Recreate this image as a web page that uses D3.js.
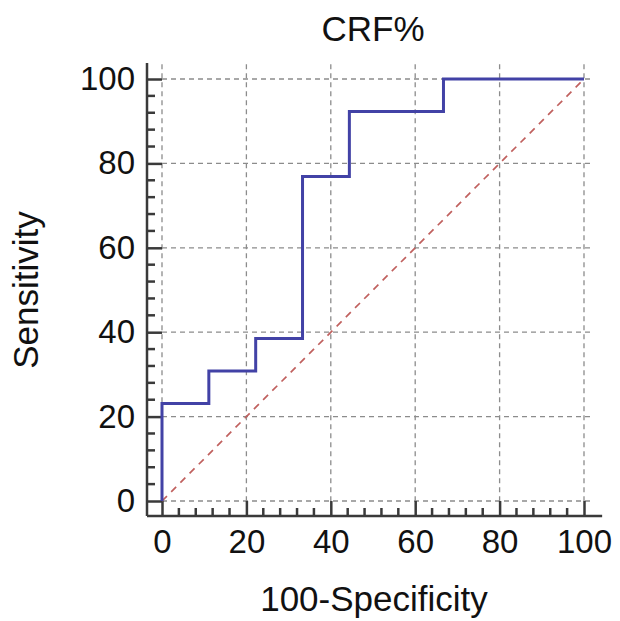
<!DOCTYPE html>
<html>
<head>
<meta charset="utf-8">
<script src="https://cdn.jsdelivr.net/npm/d3@7"></script>
<style>
  body { margin: 0; background: #fff; }
  text { font-family: "Liberation Sans", Arial, sans-serif; fill: #111; }
</style>
</head>
<body>
<div id="chart"></div>
<script>
// ROC curve points (100-Specificity, Sensitivity)
const fpr = [0, 0, 11.1, 11.1, 22.2, 22.2, 33.3, 33.3, 44.4, 44.4, 66.7, 66.7, 100];
const tpr = [0, 23.1, 23.1, 30.8, 30.8, 38.5, 38.5, 76.9, 76.9, 92.3, 92.3, 100, 100];
const majorTicks = [0, 20, 40, 60, 80, 100];
const minorTicks = d3.range(0, 101, 4).filter(v => v % 20 !== 0);
const chartTitle = "CRF%";
const xTitle = "100-Specificity";
const yTitle = "Sensitivity";

const width = 620, height = 621;
const margin = {left: 162, right: 36, top: 79, bottom: 120};
const axisGap = 15;

const svg = d3.select("#chart").append("svg")
    .attr("width", width)
    .attr("height", height);

const x = d3.scaleLinear().domain([0, 100]).range([margin.left, width - margin.right]);
const y = d3.scaleLinear().domain([0, 100]).range([height - margin.bottom, margin.top]);

const axisX = y(0) + axisGap;   // y pixel of bottom axis line
const axisY = x(0) - axisGap;   // x pixel of left axis line

// grid
const grid = svg.append("g")
    .attr("stroke", "#8c8c8c")
    .attr("stroke-width", 1.3)
    .attr("stroke-dasharray", "5,4");
grid.selectAll(".gx").data(majorTicks).enter().append("line")
    .attr("x1", d => x(d)).attr("x2", d => x(d))
    .attr("y1", y(103.5)).attr("y2", y(0));
grid.selectAll(".gy").data(majorTicks).enter().append("line")
    .attr("y1", d => y(d)).attr("y2", d => y(d))
    .attr("x1", x(0)).attr("x2", x(102.2));

// axes
const xAxis = svg.append("g")
    .attr("transform", `translate(0,${axisX})`)
    .call(d3.axisBottom(x).tickValues(majorTicks).tickSize(-axisGap).tickPadding(14));
xAxis.append("g").selectAll("line").data(minorTicks).enter().append("line")
    .attr("x1", d => x(d)).attr("x2", d => x(d))
    .attr("y1", 0).attr("y2", -8);

const yAxis = svg.append("g")
    .attr("transform", `translate(${axisY},0)`)
    .call(d3.axisLeft(y).tickValues(majorTicks).tickSize(-axisGap).tickPadding(12));
yAxis.append("g").selectAll("line").data(minorTicks).enter().append("line")
    .attr("y1", d => y(d)).attr("y2", d => y(d))
    .attr("x1", 0).attr("x2", 8);

svg.selectAll(".domain").remove();
svg.selectAll(".tick line, g > g > line").attr("stroke", "#3a3a3a").attr("stroke-width", 2.5);
svg.selectAll(".tick text")
    .style("font-family", '"Liberation Sans", Arial, sans-serif')
    .style("font-size", "33px")
    .attr("fill", "#111");

svg.append("line")
    .attr("x1", 0).attr("x2", 0)
    .attr("y1", y(103.8)).attr("y2", axisX)
    .attr("transform", `translate(${axisY},0)`)
    .attr("stroke", "#3a3a3a").attr("stroke-width", 2.5);
svg.append("line")
    .attr("x1", axisY).attr("x2", x(104.3))
    .attr("y1", axisX).attr("y2", axisX)
    .attr("stroke", "#3a3a3a").attr("stroke-width", 2.5);

// reference diagonal
svg.append("line")
    .attr("x1", x(0)).attr("y1", y(0))
    .attr("x2", x(100)).attr("y2", y(100))
    .attr("stroke", "#c0605e")
    .attr("stroke-width", 1.7)
    .attr("stroke-dasharray", "7,6");

// ROC curve
const rocData = fpr.map((d, i) => [d, tpr[i]]);
svg.append("path")
    .datum(rocData)
    .attr("fill", "none")
    .attr("stroke", "#4242a6")
    .attr("stroke-width", 3)
    .attr("d", d3.line().x(d => x(d[0])).y(d => y(d[1])));

// titles
svg.append("text")
    .attr("x", (x(0) + x(100)) / 2)
    .attr("y", 41)
    .attr("text-anchor", "middle")
    .style("font-size", "35px")
    .text(chartTitle);

svg.append("text")
    .attr("x", (x(0) + x(100)) / 2 + 1)
    .attr("y", 611)
    .attr("text-anchor", "middle")
    .style("font-size", "35px")
    .text(xTitle);

svg.append("text")
    .attr("transform", `translate(38,${(y(0) + y(100)) / 2}) rotate(-90)`)
    .attr("text-anchor", "middle")
    .style("font-size", "35px")
    .text(yTitle);
</script>
</body>
</html>
